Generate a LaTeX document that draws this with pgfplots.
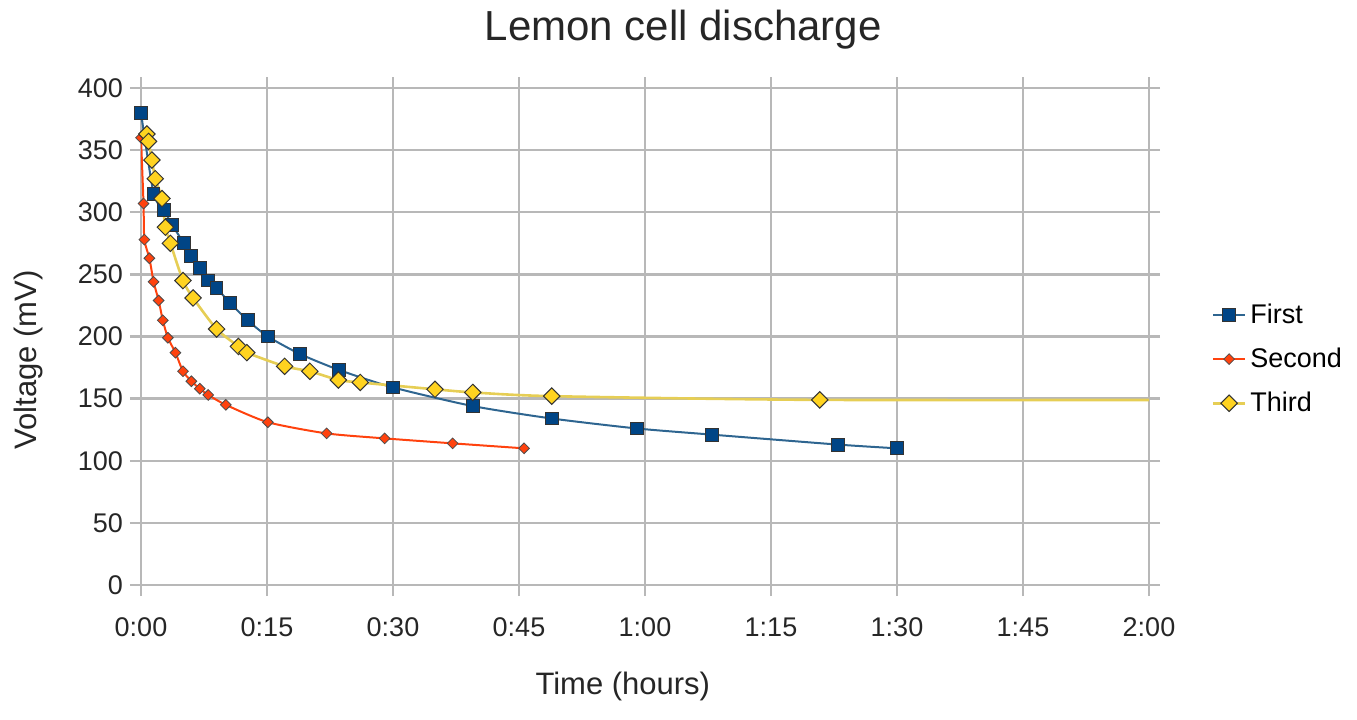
\documentclass[border=0pt]{standalone}
\usepackage{fontspec}
\setmainfont{Liberation Sans}
\usepackage{pgfplots}
\pgfplotsset{compat=1.18}

\definecolor{sfirst}{HTML}{004586}
\definecolor{sfirstline}{HTML}{2E6590}
\definecolor{ssecond}{HTML}{FF420E}
\definecolor{sthird}{HTML}{FFD320}
\definecolor{sthirdline}{HTML}{E6CE55}
\definecolor{gridgray}{HTML}{B8B8B8}

\begin{document}
\begin{tikzpicture}
% page = 1357x719 px at 0.5pt per px
\useasboundingbox (-70.5pt,-67pt) rectangle (608pt,292.5pt);
\begin{axis}[
    scale only axis,
    width=504pt, height=248.5pt,
    xmin=0, xmax=120, ymin=0, ymax=400,
    xtick={0,15,...,120},
    xticklabels={0:00,0:15,0:30,0:45,1:00,1:15,1:30,1:45,2:00},
    ytick={0,50,...,400},
    /pgf/number format/assume math mode=true,
    tick label style={font=\fontsize{13.5}{16}\selectfont, text=black!85},
    xticklabel style={yshift=-7.5pt},
    tick align=outside,
    major tick length=5.5pt,
    tick style={gridgray, line width=1.2pt},
    axis line style={gridgray, line width=1.2pt},
    grid=major,
    major grid style={gridgray, line width=1.2pt},
    every axis title shift=0pt,
    title={Lemon cell discharge},
    title style={font=\fontsize{21}{25}\selectfont, at={(axis description cs:0.538,1.117)}, anchor=center, text=black!85},
    xlabel={Time (hours)},
    xlabel style={font=\fontsize{15.5}{18}\selectfont, at={(axis description cs:0.478,-0.205)}, anchor=center, text=black!85},
    ylabel={Voltage (mV)},
    ylabel style={font=\fontsize{15.5}{18}\selectfont, at={(axis description cs:-0.112,0.453)}, anchor=center, text=black!85},
    legend style={draw=none, fill=none, at={(axis description cs:1.062,0.575)}, anchor=north west,
        font=\fontsize{13.5}{16}\selectfont, row sep=6.8pt, inner sep=0pt},
    legend cell align=left,
    legend image code/.code={
        \draw[mark repeat=2,mark phase=2] plot coordinates {(0cm,0cm) (0.28cm,0cm) (0.56cm,0cm)};
    },
]
\addplot[sfirstline, line width=1pt, smooth, tension=0.4,
    mark=square*, mark size=3.2pt, mark options={fill=sfirst, draw=black!80, line width=0.5pt, solid}]
    coordinates {
    (0,380) (1.5,315) (2.7,302) (3.7,290) (5.1,275) (6.0,265) (7.0,255)
    (8.0,245) (9.0,239) (10.6,227) (12.7,213) (15.1,200) (18.9,186)
    (23.6,173) (30,159) (39.5,144) (48.9,134) (59,126) (68,121) (83,113) (90,110)
};
\addlegendentry{First}
\addplot[ssecond, line width=1pt, smooth, tension=0.4,
    mark=square*, mark size=1.9pt, mark options={fill=ssecond, draw=black!70, line width=0.4pt, rotate=45, solid}]
    coordinates {
    (0,360) (0.3,307) (0.4,278) (1.0,263) (1.5,244) (2.1,229) (2.6,213)
    (3.2,199) (4.1,187) (5.0,172) (6.0,164) (7.0,158) (8.0,153) (10.1,145)
    (15.1,131) (22.1,122) (29,118) (37.1,114) (45.6,110)
};
\addlegendentry{Second}
\addplot[sthirdline, line width=1.3pt, smooth, tension=0.4,
    mark=square*, mark size=2.9pt, mark options={fill=sthird, draw=black!80, line width=0.5pt, rotate=45, solid}]
    coordinates {
    (0.7,363) (0.9,357) (1.3,342) (1.7,327) (2.5,311) (2.9,288) (3.5,275)
    (5.0,245) (6.2,231) (9.0,206) (11.6,192) (12.6,187) (17.1,176)
    (20.1,172) (23.5,165) (26.1,163) (35,157.5) (39.5,155) (48.9,152)
    (80.8,149) (140,149)
};
\addlegendentry{Third}
\end{axis}
\end{tikzpicture}
\end{document}
